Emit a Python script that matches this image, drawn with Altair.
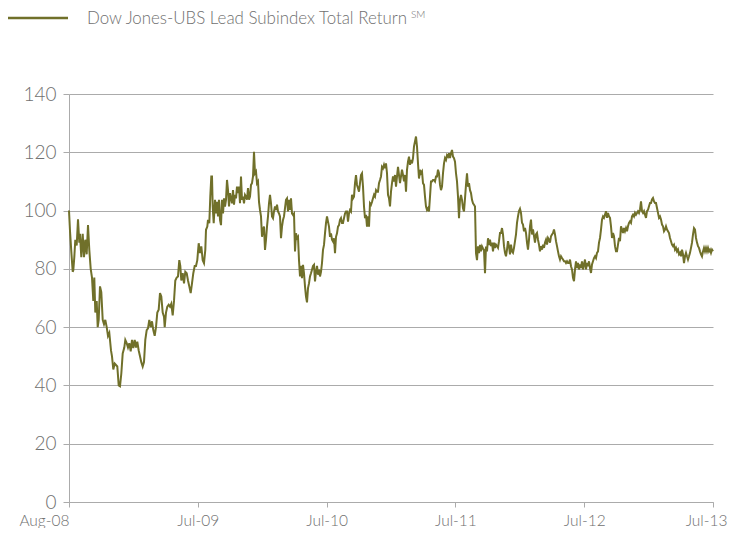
import altair as alt
import pandas as pd

# ---------------- data ----------------
series_name = "Dow Jones-UBS Lead Subindex Total Return"
superscript = "SM"

x_tick_labels = ["Aug-08", "Jul-09", "Jul-10", "Jul-11", "Jul-12", "Jul-13"]
y_ticks = [0, 20, 40, 60, 80, 100, 120, 140]
steps_per_label = 128.8   # observation steps between two axis labels

# segment A (Aug-08 .. spring 09), irregular step positions
seg_a_t = [0, 1, 2.3, 3.7, 4.3, 5.3, 6.3, 7.7, 9, 10.3, 11, 12.3, 13.7, 15, 16.3, 17.7, 19, 20.3, 21.7, 23,
           24.3, 25.3, 26.3, 27.7, 28.7, 29.7, 31, 32.3, 33.7, 35, 36.3, 37.7, 39, 40.3, 42, 43, 44.3, 45.7, 47, 48.3,
           49.7, 51, 52.3, 53.7, 55.3, 56.3, 57.7, 59, 60.3, 61.7, 63, 64.3, 65.7, 67, 68.3, 69.7, 71, 72.3, 73.7, 75,
           76.3, 77.7, 79, 80.3, 81.7, 83, 84.3, 85.7, 87, 88.3, 89.7, 91, 92.3, 93.7, 95, 95.7, 97, 98.3, 99.7, 101,
           102.3, 103.7, 105, 106.3]
seg_a_v = [100, 93, 86, 79, 79.5, 84, 90, 88, 97, 89, 92, 84, 92, 84, 90, 85, 95, 86.5, 80, 77,
           69, 77, 65, 69, 60, 62.5, 74, 72, 62.5, 61, 62.5, 60, 57, 58, 52, 50, 45.5, 47.5, 47, 46.5,
           40, 39.7, 44, 51, 53, 55.6, 54.5, 53, 54.5, 51.7, 55.6, 52.8, 55.6, 53, 55, 52, 50, 48, 46.5, 48,
           55.6, 59, 59.6, 62.5, 60, 62, 59, 57, 60, 65, 66, 71.7, 70.5, 65, 63.6, 60, 65, 67, 67.7, 67,
           68, 64, 69, 76]

# segment B (spring 09 .. summer 09), irregular step positions
seg_b_t = [107.7, 109, 110.3, 111.3, 112.3, 113.7, 115, 116.3, 117.7, 119, 120.3, 121.7, 123, 124.3, 125.7, 127,
           128.3, 129.7, 131, 132.3, 133.7, 135, 136.3, 137, 138.3, 139, 140.3, 141.3, 142.3, 143, 143.7, 144.7]
seg_b_v = [77, 77.4, 83, 81, 76, 78.5, 75, 79, 78.5, 76, 74, 71.7, 75, 78.5, 81, 81,
           83, 88.8, 85.4, 87.7, 83, 82, 86.5, 93.4, 94.5, 96.8, 95.7, 104.8, 111.7, 111.7, 101.4, 95.7]

# regularly spaced segments: (first step, values)
seg_c_start = 146
seg_c_v = [103.7, 99, 103, 98, 103.7, 96.8, 95, 103.7, 99, 104.2, 101.4, 103.7, 110.5, 107, 101.4, 106, 104.2,
           102.5, 107, 102, 105.4, 104.2, 108.2, 106, 108.2, 102.5, 111.7, 103.7, 104.8, 102.5, 105.4, 104.8, 103.7,
           107.7, 103.7, 104.8, 108.8, 109.4, 111.7, 120.2, 112.8, 113.4, 109.4, 110, 103, 100.2, 98, 91, 93.4,
           94.5, 86.5, 90, 94.5, 98, 102.5, 105.4, 102.5, 98, 97.4, 99.7, 101.4, 100.2, 102, 99.7, 99, 98]

seg_d_start = 212
seg_d_v = [90.5, 94.5, 96.8, 98, 100.8, 103.7, 104.2, 99.7, 103.7, 100.2, 104.2, 99, 98.5, 99, 86, 92.2, 90.5,
           91, 83, 77.4, 81, 76.8, 81.4, 78.5, 74, 70.5, 68.5, 73.4, 75, 77.4, 78.5, 79.7, 81, 81.4, 75.7, 79, 81,
           78, 79.7, 77.4, 79, 82, 86.5, 88.2, 92.2, 95.7, 98, 96.2, 94.5, 91, 92.2, 90, 89.4, 90.5, 85.4, 91,
           92.2, 94.5, 95, 96.8, 97.4, 95.7, 95.7, 97.4, 99, 99.7, 99.7, 96.2, 99, 100.2, 99.7, 105.4, 104.2,
           104.8, 109.4, 112.2, 108.8, 107.7, 106.5, 109.4, 112.2, 112.8, 108.2, 101.4, 97.4, 98.5, 94.5, 98,
           94.5, 102.5, 102, 103, 104.2, 105.4, 104.8, 107, 106.5, 106.5, 109.4, 110.5, 111.7, 115, 114.5, 115.7]

seg_e_start = 316
seg_e_v = [114.5, 116.2, 112.8, 105.4, 104.2, 101.4, 106.5, 109.4, 111.7, 110, 112.2, 108.2, 111.7, 115, 112.2,
           109.4, 111.7, 114, 112.2, 110, 112.2, 106.5, 114, 116.8, 118.5, 115.7, 117.4, 116.2, 118, 122, 123.7,
           125.4, 122, 116.2, 111, 114, 112.8, 113.4, 109.4, 108.8, 104.8, 101.4, 100.2, 100.8, 99.7, 104.8, 110,
           110, 110.5, 110.5, 110, 111.7, 111.7, 114, 112.8, 108.8, 107, 108.2, 112.8, 116.2, 118, 117.4, 119,
           118.5, 119.7, 118, 119.7, 120.8, 118.5, 118, 116.8, 112.8, 110, 104.8, 97.4, 103.7, 105.4, 103.7,
           100.8, 99.7, 104.2, 108.8, 112.8, 108.2, 109.4, 107, 106, 103.7, 102.5, 102, 101.4, 85.4, 83, 87.7,
           85.4, 88.2, 86, 87.7, 87, 86.5, 78.5, 87.7, 86, 90.5, 88.2, 90]

seg_f_start = 422
seg_f_v = [87.8, 89, 86, 89, 87.2, 88.3, 87.8, 87.2, 89.5, 92.3, 92.3, 94, 91.8, 87.8, 85.5, 84.3, 86.6, 89.5,
           87.8, 85, 88.3, 86, 85.5, 87.2, 89.5, 91.8, 95.8, 98, 99.8, 100.6, 99.2, 95.8, 95.2, 92.9, 94, 92.3,
           89, 86.6, 90, 94.6, 96.9, 91.8, 93.5, 91.2, 89, 91.8, 92.3, 90, 88.3, 86, 87.8, 86.6, 88.3, 87.2, 89,
           90, 88.3, 90.6, 90, 89, 91.2, 91.8, 92.3, 93.5, 91.8, 89.5, 87.8, 86, 84.3, 83.2, 84.3, 83.7, 83.2,
           82.6, 82.6, 82, 82.6, 82, 82, 83.2, 80.9, 79.8, 76.9, 75.8, 79.8, 82.6, 80.3, 82, 79.8, 81.5, 80.3,
           82.6, 79.8, 81.5, 83.2, 79.8, 82, 80.9, 82.6, 80.3, 78.6, 81.5, 82.6, 83.7, 84.3, 83.7, 85.5, 86, 89,
           90.6]

seg_g_start = 532
seg_g_v = [93.5, 96.9, 98, 97.5, 98.6, 99.8, 97.5, 99.2, 98, 97.5, 94.6, 90.6, 92.3, 91.2, 87.8, 86, 86, 88.3,
           90.6, 89.5, 94.6, 93.5, 92.3, 94, 92.9, 94, 92.9, 94.6, 95.8, 96.3, 95.8, 98, 98.6, 98, 99.2, 98.6,
           99.2, 99.8, 99.2, 100.3, 103.2, 99.8, 99.2, 99.8, 98.6, 97.5, 99.8, 100.3, 101.5, 102.6, 102.6, 103.8,
           104.3, 103.2, 102.6, 102.6, 100.9, 99.2, 97.5, 98, 96.9, 95.2, 94.6, 92.9, 93.5, 94.6, 93.5, 92.9,
           92.3, 90.6, 89.5, 88.3, 87.8, 88.3, 86.6, 87.2, 86, 86.6, 85, 85.5, 84.3, 86.6, 85, 82, 84.3, 85.5,
           84.3, 83.2, 84.3, 85.5, 87.2, 89, 91.8, 94, 93.5, 90.6, 89, 87.8, 87.2, 86, 85, 84.3, 86, 87.2, 86,
           87.2, 86, 87.2, 86, 86.6, 85.5, 86.6, 86]

# ---------------- build table ----------------
rows = []
for t, v in zip(seg_a_t, seg_a_v):
    rows.append((t, v))
for t, v in zip(seg_b_t, seg_b_v):
    rows.append((t, v))
for start, vals in [(seg_c_start, seg_c_v), (seg_d_start, seg_d_v), (seg_e_start, seg_e_v),
                    (seg_f_start, seg_f_v), (seg_g_start, seg_g_v)]:
    for i, v in enumerate(vals):
        rows.append((start + i, v))

df = pd.DataFrame(rows, columns=["step", "value"])
df["pos"] = df["step"] / steps_per_label
df["series"] = series_name

LINE = "#70702a"
GRID = "#ababab"
TXT = "#707070"
FONT = "Lato"

n_last = len(x_tick_labels) - 1
label_array = "[" + ",".join("'" + s + "'" for s in x_tick_labels) + "]"

base = alt.Chart(df)

line = base.mark_line(color=LINE, strokeWidth=2, clip=False).encode(
    x=alt.X("pos:Q",
            scale=alt.Scale(domain=[0, n_last], nice=False, zero=False),
            axis=alt.Axis(values=list(range(len(x_tick_labels))),
                          labelExpr=label_array + "[round(datum.value)]",
                          title=None, grid=False, domain=True, domainColor=GRID,
                          ticks=True, tickColor=GRID, tickSize=5,
                          labelFont=FONT, labelFontSize=15.5, labelFontWeight=300, labelColor=TXT,
                          labelPadding=6, labelFlush=False, labelOverlap=False,
                          labelAlign={"condition": {"test": "datum.value == 0 || datum.value == %d" % n_last,
                                                    "value": "right"},
                                      "value": "center"},
                          labelOffset={"condition": {"test": "datum.value == %d" % n_last, "value": 14},
                                       "value": 0})),
    y=alt.Y("value:Q",
            scale=alt.Scale(domain=[0, 140], nice=False),
            axis=alt.Axis(values=y_ticks, title=None, grid=True, gridColor=GRID,
                          domain=True, domainColor=GRID, ticks=True, tickColor=GRID,
                          tickSize=6, labelFont=FONT, labelFontSize=19, labelFontWeight=300,
                          labelColor=TXT, labelPadding=7)),
)

legend_df = pd.DataFrame({"label": [series_name], "sup": [superscript]})
leg = alt.Chart(legend_df)

legend_line = leg.mark_rule(color=LINE, strokeWidth=2.5).encode(
    x=alt.value(-61), x2=alt.value(-1), y=alt.value(-76)
)
legend_text = leg.mark_text(align="left", baseline="middle", font=FONT, fontSize=16.9,
                            fontWeight=300, color=TXT).encode(
    text="label:N", x=alt.value(18), y=alt.value(-75)
)
legend_sup = leg.mark_text(align="left", baseline="middle", font=FONT, fontSize=10,
                           fontWeight=300, color=TXT).encode(
    text="sup:N", x=alt.value(342), y=alt.value(-79)
)

chart = alt.layer(line, legend_line, legend_text, legend_sup).properties(
    width=644, height=408,
    autosize=alt.AutoSizeParams(type="none"),
    padding={"left": 61, "top": 86, "right": 15, "bottom": 26},
).configure_view(strokeWidth=0)

chart.save("out.html", embed_options={"renderer": "svg", "actions": False})
